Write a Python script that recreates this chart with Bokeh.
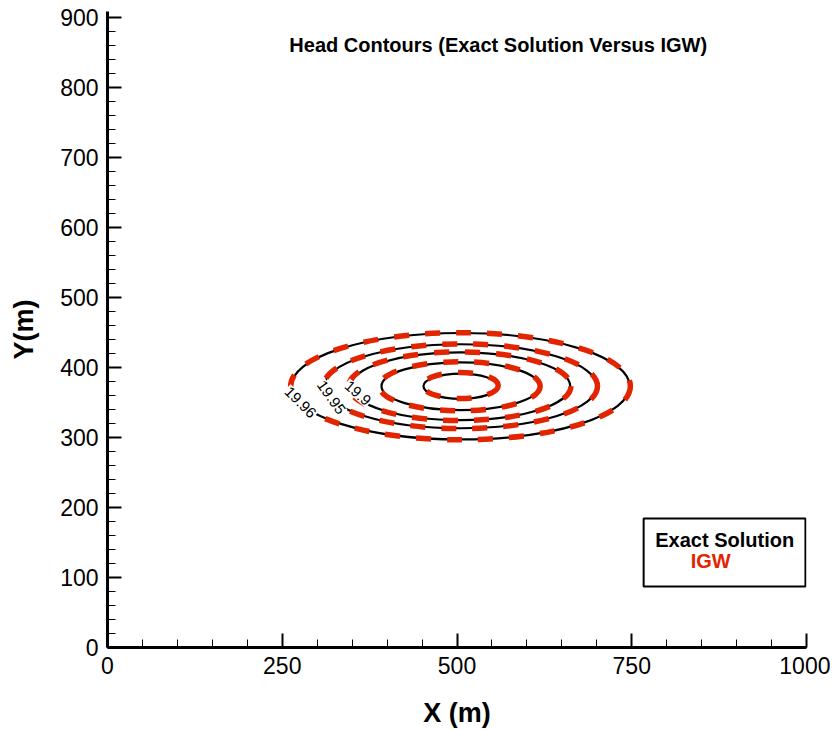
from bokeh.plotting import figure
from bokeh.models import (ColumnDataSource, Range1d, SingleIntervalTicker, Label,
                          BoxAnnotation)
from bokeh.core.properties import value
from bokeh.embed import file_html
from bokeh.resources import INLINE

FONT = "Liberation Sans"

# ---- data ----
contour_levels = ["19.96", "19.95", "19.9", "19.8", "19.6"]
# Exact solution contour ellipses (center, full width, full height), metres
exact_cx = [505, 505, 505, 505, 505]
exact_cy = [373, 373, 373, 373, 373]
exact_w = [484, 390, 314, 226, 106]
exact_h = [152, 120, 97, 68, 36]
# IGW contour ellipses
igw_cx = [505, 505, 504, 504, 505]
igw_cy = [373, 373, 373, 373, 374]
igw_w = [486, 392, 318, 230, 108]
igw_h = [153, 121, 98, 70, 37]
# contour labels
lab_x = [276, 320, 358]
lab_y = [350, 357, 363]
lab_text = ["19.96", "19.95", "19.9"]
lab_angle = [-0.78, -0.95, -0.72]

p = figure(frame_width=699, frame_height=636, output_backend="svg",
           toolbar_location=None, min_border_left=107, min_border_right=24,
           min_border_top=11, min_border_bottom=80,
           x_range=Range1d(0, 1000), y_range=Range1d(0, 908))
p.outline_line_color = None
p.xgrid.visible = False
p.ygrid.visible = False
p.background_fill_color = "white"

p.xaxis.ticker = SingleIntervalTicker(interval=250, num_minor_ticks=5)
p.yaxis.ticker = SingleIntervalTicker(interval=100, num_minor_ticks=5)
for ax in (p.xaxis, p.yaxis):
    ax.axis_line_width = 3
    ax.axis_line_color = "black"
    ax.major_tick_in = 14
    ax.major_tick_out = 0
    ax.minor_tick_in = 8
    ax.minor_tick_out = 0
    ax.major_tick_line_width = 2
    ax.minor_tick_line_width = 1
    ax.major_tick_line_color = "black"
    ax.minor_tick_line_color = "black"
    ax.major_label_text_font = FONT
    ax.major_label_text_font_size = "23px"
    ax.major_label_text_color = "black"
    ax.axis_label_text_font = FONT
    ax.axis_label_text_font_style = "bold"
    ax.axis_label_text_font_size = "27px"
    ax.axis_label_text_color = "black"
p.xaxis.axis_label = "X (m)"
p.yaxis.axis_label = "Y(m)"
p.xaxis.major_label_standoff = 9
p.yaxis.major_label_standoff = 9
p.xaxis.axis_label_standoff = 21
p.yaxis.axis_label_standoff = 18

src_exact = ColumnDataSource(dict(x=exact_cx, y=exact_cy, w=exact_w, h=exact_h,
                                  level=contour_levels))
src_igw = ColumnDataSource(dict(x=igw_cx, y=igw_cy, w=igw_w, h=igw_h,
                                level=contour_levels))
p.ellipse(x="x", y="y", width="w", height="h", source=src_exact,
          fill_color=None, line_color="black", line_width=2.2)
p.ellipse(x="x", y="y", width="w", height="h", source=src_igw,
          fill_color=None, line_color="#e32400", line_width=5.5,
          line_dash="15 16")

src_lab = ColumnDataSource(dict(x=lab_x, y=lab_y, t=lab_text, a=lab_angle))
p.text(x="x", y="y", text="t", angle="a", source=src_lab,
       text_font=value(FONT), text_font_size="15px", text_color="black",
       text_align="center", text_baseline="middle",
       background_fill_color="white", padding=1)

p.add_layout(Label(x=559, y=860, text="Head Contours (Exact Solution Versus IGW)",
                   text_font=FONT, text_font_style="bold", text_font_size="20px",
                   text_color="black", text_align="center", text_baseline="middle"))

p.add_layout(BoxAnnotation(left=767, right=998.5, bottom=87, top=184,
                           fill_color="white", fill_alpha=1,
                           line_color="black", line_alpha=1, line_width=2))
p.add_layout(Label(x=883, y=153, text="Exact Solution", text_font=FONT,
                   text_font_style="bold", text_font_size="20px",
                   text_color="black", text_align="center", text_baseline="middle"))
p.add_layout(Label(x=863, y=124, text="IGW", text_font=FONT,
                   text_font_style="bold", text_font_size="20px",
                   text_color="#e32400", text_align="center", text_baseline="middle"))

open("out.html", "w").write(file_html(p, INLINE))
